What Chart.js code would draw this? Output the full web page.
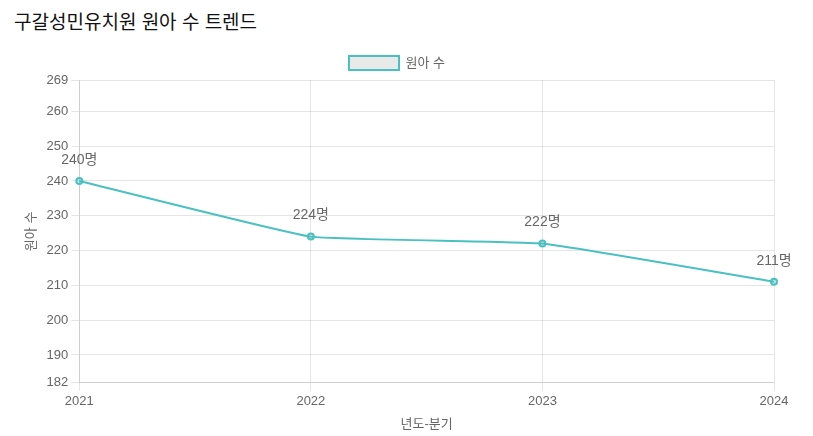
<!DOCTYPE html>
<html>
<head>
<meta charset="utf-8">
<script src="https://cdn.jsdelivr.net/npm/chart.js@4"></script>
<style>
  body { margin: 0; font-family: "Liberation Sans", "Noto Sans CJK KR", sans-serif; background: #fff; }
  h3 { margin: 7px 0 0 14px; font-size: 19px; font-weight: normal; color: #111; height: 30px; }
  #wrap { position: relative; width: 800px; height: 390px; margin-left: 6px; margin-top: 9px; }
</style>
</head>
<body>
<h3>구갈성민유치원 원아 수 트렌드</h3>
<div id="wrap"><canvas id="c"></canvas></div>
<script>
// data
const years = ["2021", "2022", "2023", "2024"];
const students = [240, 224, 222, 211];

const pointLabels = {
  id: "pointLabels",
  afterDatasetsDraw(chart) {
    const ctx = chart.ctx;
    const meta = chart.getDatasetMeta(0);
    ctx.save();
    ctx.font = "14px 'Liberation Sans', 'Noto Sans CJK KR'";
    ctx.fillStyle = "#666";
    ctx.textAlign = "center";
    ctx.textBaseline = "bottom";
    meta.data.forEach((p, i) => {
      ctx.fillText(students[i] + "명", p.x, p.y - 14);
    });
    ctx.restore();
  },
};

Chart.defaults.font.family = "'Liberation Sans', 'Noto Sans CJK KR', sans-serif";
Chart.defaults.font.size = 13;
Chart.defaults.color = "#666";

new Chart(document.getElementById("c"), {
  type: "line",
  data: {
    labels: years,
    datasets: [{
      label: "원아 수",
      data: students,
      borderColor: "rgb(75,192,192)",
      backgroundColor: "rgba(200,200,200,0.4)",
      borderWidth: 2,
      pointRadius: 3,
      pointBackgroundColor: "rgba(75,192,192,0.3)",
      pointBorderWidth: 2,
      tension: 0.1,
    }],
  },
  options: {
    responsive: true,
    maintainAspectRatio: false,
    animation: false,
    layout: { padding: { left: 14, right: 32, top: 0 } },
    plugins: {
      legend: { labels: { boxWidth: 50, boxHeight: 14 } },
    },
    scales: {
      x: {
        offset: false,
        title: { display: true, text: "년도-분기" },
      },
      y: {
        min: 182,
        max: 269,
        ticks: { stepSize: 10 },
        title: { display: true, text: "원아 수" },
      },
    },
  },
  plugins: [pointLabels],
});
</script>
</body>
</html>
